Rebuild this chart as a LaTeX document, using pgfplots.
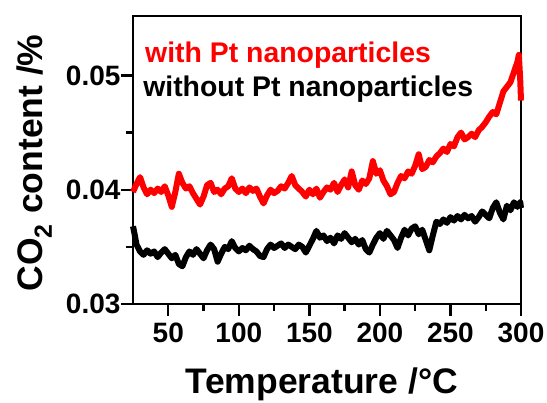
\documentclass[border=0pt]{standalone}
\usepackage{pgfplots}
\pgfplotsset{compat=1.18}
\usepackage{fontspec}
\setmainfont{Liberation Sans}
\definecolor{ptred}{RGB}{255,0,0}
\pgfplotstableread{
T v
25.0 0.0398
27.5 0.0405
30.0 0.0411
32.5 0.0402
35.0 0.0396
37.5 0.0400
40.0 0.0397
42.5 0.0401
45.0 0.0398
47.5 0.0403
50.0 0.0395
52.5 0.0385
55.0 0.0398
57.5 0.0414
60.0 0.0406
62.5 0.0401
65.0 0.0403
67.5 0.0397
70.0 0.0392
72.5 0.0387
75.0 0.0394
77.5 0.0404
80.0 0.0406
82.5 0.0398
85.0 0.0400
87.5 0.0396
90.0 0.0401
92.5 0.0403
95.0 0.0410
97.5 0.0401
100.0 0.0398
102.5 0.0401
105.0 0.0397
107.5 0.0402
110.0 0.0399
112.5 0.0401
115.0 0.0394
117.5 0.0388
120.0 0.0395
122.5 0.0400
125.0 0.0397
127.5 0.0399
130.0 0.0403
132.5 0.0401
135.0 0.0406
137.5 0.0412
140.0 0.0404
142.5 0.0401
145.0 0.0398
147.5 0.0394
150.0 0.0400
152.5 0.0396
155.0 0.0401
157.5 0.0393
160.0 0.0398
162.5 0.0402
165.0 0.0400
167.5 0.0406
170.0 0.0398
172.5 0.0404
175.0 0.0409
177.5 0.0402
180.0 0.0416
182.5 0.0404
185.0 0.0400
187.5 0.0408
190.0 0.0405
192.5 0.0410
195.0 0.0425
197.5 0.0414
200.0 0.0417
202.5 0.0408
205.0 0.0403
207.5 0.0396
210.0 0.0398
212.5 0.0406
215.0 0.0412
217.5 0.0410
220.0 0.0416
222.5 0.0414
225.0 0.0421
227.5 0.0431
230.0 0.0418
232.5 0.0420
235.0 0.0426
237.5 0.0424
240.0 0.0429
242.5 0.0432
245.0 0.0436
247.5 0.0433
250.0 0.0440
252.5 0.0438
255.0 0.0446
257.5 0.0450
260.0 0.0444
262.5 0.0446
265.0 0.0449
267.5 0.0446
270.0 0.0452
272.5 0.0455
275.0 0.0459
277.5 0.0464
280.0 0.0468
282.5 0.0466
285.0 0.0476
287.5 0.0486
290.0 0.0490
292.5 0.0494
295.0 0.0503
297.5 0.0512
298.5 0.0518
299.5 0.0495
300.0 0.0478
}\withpt
\pgfplotstableread{
T v
25.0 0.0368
26.0 0.0362
27.5 0.0352
30.0 0.0346
32.5 0.0343
35.0 0.0347
37.5 0.0344
40.0 0.0346
42.5 0.0341
45.0 0.0345
47.5 0.0348
50.0 0.0344
52.5 0.0340
55.0 0.0343
57.5 0.0335
60.0 0.0333
62.5 0.0341
65.0 0.0346
67.5 0.0343
70.0 0.0348
72.5 0.0344
75.0 0.0340
77.5 0.0347
80.0 0.0352
82.5 0.0348
85.0 0.0337
87.5 0.0344
90.0 0.0350
92.5 0.0348
95.0 0.0355
97.5 0.0349
100.0 0.0346
102.5 0.0349
105.0 0.0347
107.5 0.0351
110.0 0.0348
112.5 0.0346
115.0 0.0342
117.5 0.0341
120.0 0.0348
122.5 0.0352
125.0 0.0349
127.5 0.0351
130.0 0.0353
132.5 0.0349
135.0 0.0352
137.5 0.0350
140.0 0.0348
142.5 0.0352
145.0 0.0350
147.5 0.0345
150.0 0.0351
152.5 0.0357
155.0 0.0364
157.5 0.0358
160.0 0.0360
162.5 0.0355
165.0 0.0358
167.5 0.0353
170.0 0.0360
172.5 0.0357
175.0 0.0362
177.5 0.0358
180.0 0.0354
182.5 0.0357
185.0 0.0352
187.5 0.0356
190.0 0.0348
192.5 0.0345
195.0 0.0352
197.5 0.0358
200.0 0.0362
202.5 0.0357
205.0 0.0364
207.5 0.0360
210.0 0.0356
212.5 0.0349
215.0 0.0358
217.5 0.0365
220.0 0.0360
222.5 0.0366
225.0 0.0368
227.5 0.0361
230.0 0.0365
232.5 0.0356
235.0 0.0347
237.5 0.0360
240.0 0.0372
242.5 0.0370
245.0 0.0374
247.5 0.0371
250.0 0.0376
252.5 0.0373
255.0 0.0377
257.5 0.0374
260.0 0.0378
262.5 0.0375
265.0 0.0377
267.5 0.0372
270.0 0.0376
272.5 0.0381
275.0 0.0378
277.5 0.0375
280.0 0.0384
282.5 0.0389
285.0 0.0380
287.5 0.0374
290.0 0.0386
292.5 0.0382
295.0 0.0389
297.5 0.0385
299.5 0.0389
300.0 0.0384
}\withoutpt
\begin{document}
\begin{tikzpicture}
\useasboundingbox (-133pt,-99pt) rectangle (414pt,304pt);
\begin{axis}[
  at={(0pt,0pt)}, anchor=south west,
  scale only axis, width=388pt, height=288pt,
  xmin=25, xmax=300, ymin=0.03, ymax=0.0552,
  axis line style={line width=2.6pt},
  xtick={50,100,...,300}, minor x tick num=1,
  ytick={0.03,0.04,0.05}, minor y tick num=1,
  tick pos=left, tick align=outside,
  major tick length=12pt, minor tick length=7pt,
  every tick/.style={line width=2.4pt, black},
  scaled y ticks=false,
  yticklabel style={/pgf/number format/fixed, /pgf/number format/fixed zerofill, /pgf/number format/precision=2, xshift=3pt},
  /pgf/number format/assume math mode=true,
  ticklabel style={font=\fontsize{28}{32}\selectfont\bfseries},
  xticklabel style={yshift=-3pt},
  label style={font=\fontsize{35.5}{42}\selectfont\bfseries},
  xlabel={Temperature /°C},
  ylabel={CO\textsubscript{2} content /\%},
  xlabel style={at={(axis description cs:0.487,-0.3125)}, anchor=base},
  ylabel style={at={(axis description cs:-0.232,0.49)}, anchor=base},
  clip=false,
]
\addplot[ptred, line width=6pt, line join=round] table[x=T,y=v] {\withpt};
\addplot[black, line width=6pt, line join=round] table[x=T,y=v] {\withoutpt};
\node[anchor=base west, text=ptred, font=\fontsize{28.4}{32}\selectfont\bfseries, inner sep=0pt] at (axis description cs:0.031,0.840) {with Pt nanoparticles};
\node[anchor=base west, text=black, font=\fontsize{28.4}{32}\selectfont\bfseries, inner sep=0pt] at (axis description cs:0.026,0.719) {without Pt nanoparticles};
\end{axis}
\end{tikzpicture}
\end{document}
